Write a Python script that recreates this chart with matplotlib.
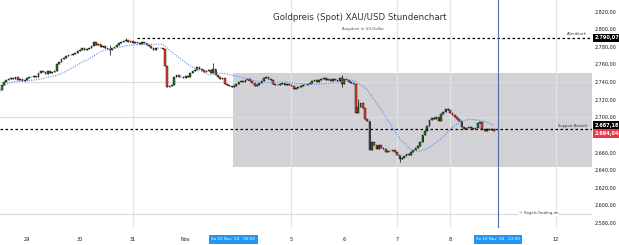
import matplotlib
matplotlib.use('Agg')
import matplotlib.pyplot as plt
import matplotlib.transforms as mtransforms
from matplotlib.patches import Rectangle
import numpy as np
import pandas as pd

# hourly closes XAU/USD, 28 Oct - 8 Nov 2024
closes = [
    2731, 2736, 2740, 2742, 2743, 2744, 2743, 2745, 2742, 2743, 2741, 2742, 2744,
    2746, 2745, 2747, 2746,
    2750, 2752, 2751, 2749, 2752, 2750, 2751, 2752,
    2760, 2763, 2766, 2767,
    2769, 2771, 2770, 2772,
    2773, 2775, 2776, 2778, 2776, 2777, 2779,
    2781, 2785, 2782,
    2783, 2780, 2781, 2779, 2777,
    2776, 2778, 2780,
    2782, 2784, 2785, 2786, 2787, 2785, 2786,
    2784, 2785, 2784, 2783, 2785, 2784, 2782,
    2781, 2779, 2776, 2779, 2778,
    2778, 2777,
    2758, 2734,
    2735, 2737,
    2746, 2748, 2745,
    2746, 2744, 2747, 2746,
    2750, 2752, 2754,
    2757, 2755,
    2753, 2751, 2752, 2754, 2750,
    2755, 2748,
    2746, 2743, 2744,
    2738, 2736, 2735, 2734,
    2735, 2738, 2740, 2741, 2740,
    2742, 2743, 2741,
    2739, 2735, 2737, 2739,
    2741, 2744, 2745, 2743, 2742,
    2738, 2736, 2737,
    2738, 2739, 2737, 2738,
    2736, 2735,
    2732, 2733, 2734,
    2735, 2736, 2737, 2738,
    2739, 2741, 2742, 2740, 2742, 2743,
    2744,
    2742, 2743, 2741, 2743, 2742, 2741,
    2744, 2738, 2743, 2742,
    2740, 2739, 2738,
    2705, 2712, 2716, 2710, 2698, 2695, 2663,
    2672, 2668, 2664,
    2668, 2665, 2664, 2660,
    2661, 2662, 2663, 2660,
    2657, 2652, 2654,
    2656, 2658, 2657,
    2660, 2663, 2665, 2667,
    2672, 2680, 2684,
    2690, 2697,
    2699, 2698, 2700,
    2696, 2703,
    2706, 2709, 2708,
    2705, 2702, 2700,
    2698, 2695, 2689,
    2687, 2688, 2689, 2688, 2687, 2688,
    2693, 2694,
    2686, 2684, 2686, 2685, 2687, 2684,
]
first_open = 2728
wick_highs = {48: 2782, 55: 2790.07, 93: 2761, 149: 2748, 156: 2720, 195: 2710}
wick_lows = {48: 2770, 149: 2734, 174: 2649}

day_ticks = [12, 35, 58, 81, 127, 150, 173, 196, 242]
day_labels = ['29', '30', '31', 'Nov', '5', '6', '7', '8', '12']
grid_days = [58, 127, 173, 196, 242]
grid_prices = [2740, 2700, 2590]
price_ticks = [2580, 2600, 2620, 2640, 2660, 2700, 2720, 2740, 2760, 2780, 2800, 2820]

ath = 2790.07
support = 2686.0
support_label = 2687.18
last_price = 2684.04
zone_low, zone_high = 2643, 2750
zone_start, zone_end = 101.6, 258
cursor_bar = 216.8
date_boxes = [(101.6, "Sa 02 Nov '24   00:00"), (216.8, "So 10 Nov '24   23:00")]


def de_fmt(v):
    return f"{v:,.2f}".replace(',', 'X').replace('.', ',').replace('X', '.')


closes = np.array(closes, dtype=float)
opens = np.concatenate([[first_open], closes[:-1]])
x = np.arange(len(closes))
highs = np.maximum(opens, closes)
lows = np.minimum(opens, closes)
for k, v in wick_highs.items():
    highs[k] = v
for k, v in wick_lows.items():
    lows[k] = v
ma = pd.Series(closes).rolling(20, min_periods=1).mean()

fig = plt.figure(figsize=(6.19, 2.45), dpi=100)
ax = fig.add_axes([0, 17 / 245, 592 / 619, 228 / 245])
ax.set_xlim(0.26, 257.7)
ax.set_ylim(2574, 2833)

# zone + grid
ax.add_patch(Rectangle((zone_start, zone_low), zone_end - zone_start, zone_high - zone_low,
                       facecolor='#d1d1d6', edgecolor='none', zorder=0.5))
for d in grid_days:
    ax.axvline(d, color='#e3e3e6', lw=0.9, zorder=0.6)
for p in grid_prices:
    ax.axhline(p, color='#dcdce0', lw=0.9, zorder=0.6)

# candles
up = closes >= opens
body = np.where(np.abs(closes - opens) < 0.4, 0.4, closes - opens)
ax.vlines(x, lows, highs, color='black', lw=0.5, zorder=2)
ax.bar(x, body, bottom=opens, width=0.75,
       color=np.where(up, '#1d7a2f', '#f23c2e'),
       edgecolor='black', linewidth=0.3, zorder=3)

# moving average
ax.plot(x, ma, color='#5b8def', lw=0.8, ls=(0, (1, 1.2)), zorder=4)

# horizontal levels
ax.hlines(ath, 60, 257.7, color='black', lw=0.9, ls=(0, (2, 2)), zorder=5)
ax.axhline(support, color='black', lw=0.9, ls=(0, (2, 2)), zorder=5)
ax.text(255.5, ath + 1.5, 'Allzeithoch', fontsize=2.6, ha='right', va='bottom', color='#333')
ax.text(255.5, support + 1.5, 'Support Bereich', fontsize=2.6, ha='right', va='bottom', color='#333')

# cursor line
ax.axvline(cursor_bar, color='#4a6fa5', lw=0.8, zorder=6)

# titles
ax.text(0.608, 1 - 17 / 228, 'Goldpreis (Spot) XAU/USD Stundenchart', transform=ax.transAxes,
        fontsize=6.2, ha='center', va='center', color='#333333')
ax.text(0.613, 1 - 29 / 228, 'Angaben in US-Dollar', transform=ax.transAxes,
        fontsize=2.8, ha='center', va='center', color='#555555')
ax.text(0.91, (2591 - 2574) / (2833 - 2574), '\u00a9 Kagels-Trading.de', transform=ax.transAxes,
        fontsize=2.8, ha='center', va='center', color='#444444',
        bbox=dict(boxstyle='square,pad=0.2', facecolor='white', edgecolor='none'))

# axes styling
for s in ax.spines.values():
    s.set_visible(False)
ax.yaxis.tick_right()
ax.set_yticks(price_ticks)
ax.set_yticklabels([de_fmt(v) for v in price_ticks])
ax.tick_params(axis='y', length=0, pad=1.8, labelsize=3.5, labelcolor='#131722')
ax.set_xticks(day_ticks)
ax.set_xticklabels(day_labels)
ax.tick_params(axis='x', length=0, pad=6.5, labelsize=3.6, labelcolor='#131722')

# price labels on the axis
trans = mtransforms.blended_transform_factory(ax.transAxes, ax.transData)
for val, txt, bg in [(ath, de_fmt(ath), 'black'),
                     (support + 4.5, de_fmt(support_label), 'black'),
                     (last_price - 2.5, de_fmt(last_price), '#f23645')]:
    ax.text(1.004, val, txt, transform=trans, fontsize=3.6, color='white', fontweight='bold',
            ha='left', va='center',
            bbox=dict(boxstyle='square,pad=0.35', facecolor=bg, edgecolor='none'))

# date boxes on the time axis
transx = mtransforms.blended_transform_factory(ax.transData, ax.transAxes)
for xb, txt in date_boxes:
    ax.text(xb, -11 / 228, txt, transform=transx, fontsize=3.0, color='white',
            ha='center', va='center', clip_on=False,
            bbox=dict(boxstyle='square,pad=0.6', facecolor='#2196f3', edgecolor='none'))

fig.savefig('out.png', dpi=100)
